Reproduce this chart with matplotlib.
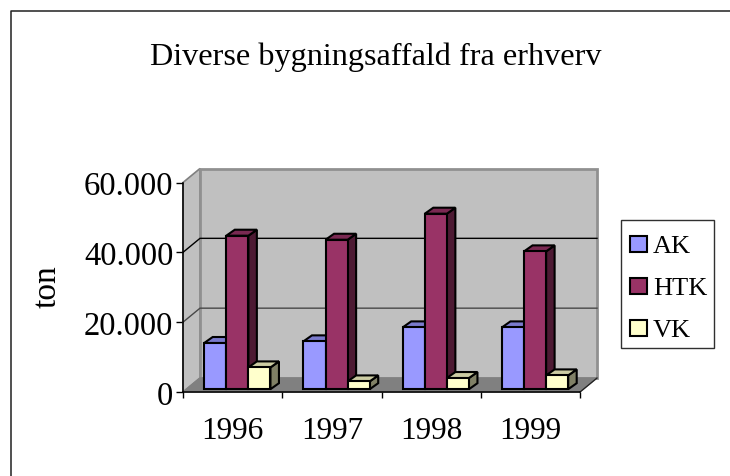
import matplotlib
matplotlib.use('Agg')
import matplotlib.pyplot as plt
from matplotlib.patches import Polygon, Rectangle
from matplotlib.lines import Line2D

plt.rcParams['font.family'] = ['Liberation Serif', 'DejaVu Serif']

years = ['1996', '1997', '1998', '1999']
series_names = ['AK', 'HTK', 'VK']
ak = [13230, 13700, 17700, 17700]
htk = [43960, 42800, 50260, 39470]
vk = [6240, 2230, 3200, 3950]
y_ticks = [0, 20000, 40000, 60000]
y_labels = ['0', '20.000', '40.000', '60.000']

front_col = ['#9999FF', '#993366', '#FFFFCC']
top_col = ['#7A7ACC', '#7A2952', '#CCCCA3']
side_col = ['#4D4D80', '#4D1A33', '#808066']

W, H = 730, 477
fig = plt.figure(figsize=(W / 100, H / 100), dpi=100)

# front plane of the fake 3d box, pixel positions from the reference
left, right, top, bottom = 183, 580, 183.5, 393
ax = fig.add_axes([left / W, 1 - bottom / H, (right - left) / W, (bottom - top) / H])
ax.set_xlim(0, 4)
ax.set_ylim(0, 60000)
ax.patch.set_visible(False)

px_x = 4 / (right - left)
px_y = 60000 / (bottom - top)
dx, dy = 17 * px_x, 14 * px_y          # depth of the box
bar_dx, bar_dy = 8.5 * px_x, 6 * px_y  # depth of a bar
off_x, off_y = 4.7 * px_x, 2.8 * px_y  # bars stand a bit inside the floor
bar_w = 0.2225
gap = (1 - 3 * bar_w) / 2

# walls and floor
ax.add_patch(Polygon([(0, 0), (dx, dy), (dx, 60000 + dy), (0, 60000)], closed=True,
                     fc='#C0C0C0', ec='#808080', lw=1.2, clip_on=False, zorder=1))
ax.add_patch(Polygon([(dx, dy), (4 + dx, dy), (4 + dx, 60000 + dy), (dx, 60000 + dy)], closed=True,
                     fc='#C0C0C0', ec='#909090', lw=2, clip_on=False, zorder=1))
ax.add_patch(Polygon([(0, 0), (4, 0), (4 + dx, dy), (dx, dy)], closed=True,
                     fc='#808080', ec='#808080', lw=1, clip_on=False, zorder=1))
ax.plot([4, 4 + dx], [0, dy], color='#202020', lw=0.9, clip_on=False, zorder=2)

# gridlines, also across the left wall
for t, c in zip(y_ticks[1:-1], ['#484848', '#000000']):
    ax.plot([0, dx, 4 + dx], [t, t + dy, t + dy], color=c, lw=1, clip_on=False, zorder=2,
            solid_joinstyle='miter')

z = 3
for i, vals in enumerate([ak, htk, vk]):
    xs = [j + gap + i * bar_w + off_x for j in range(len(years))]
    ax.bar(xs, vals, bar_w, bottom=off_y, align='edge', color=front_col[i], edgecolor='black',
           lw=1.5, zorder=z + 1, clip_on=False, label=series_names[i])
    for x0, v in zip(xs, vals):
        y1 = off_y + v
        x1 = x0 + bar_w
        ax.add_patch(Polygon([(x1, off_y), (x1 + bar_dx, off_y + bar_dy), (x1 + bar_dx, y1 + bar_dy), (x1, y1)],
                             closed=True, fc=side_col[i], ec='black', lw=1.5, clip_on=False, zorder=z))
        ax.add_patch(Polygon([(x0, y1), (x1, y1), (x1 + bar_dx, y1 + bar_dy), (x0 + bar_dx, y1 + bar_dy)],
                             closed=True, fc=top_col[i], ec='black', lw=1.5, clip_on=False, zorder=z))
    z += 2

for s in ['top', 'right']:
    ax.spines[s].set_visible(False)
ax.spines['left'].set_zorder(10)
ax.spines['bottom'].set_zorder(10)
ax.spines['left'].set_linewidth(1.1)
ax.spines['bottom'].set_linewidth(1.1)

ax.set_yticks(y_ticks)
ax.set_yticklabels(y_labels, fontsize=23.5)
ax.tick_params(axis='y', length=5, width=1, pad=2)
ax.set_xticks(range(5))
ax.set_xticklabels([])
ax.tick_params(axis='x', which='major', length=4.5, width=1)
ax.set_xticks([j + 0.5 for j in range(4)], minor=True)
ax.set_xticklabels(years, minor=True, fontsize=22.5)
ax.tick_params(axis='x', which='minor', length=0, pad=17)

fig.text(47 / W, 1 - 287 / H, 'ton', rotation=90, ha='center', va='center', fontsize=24)
fig.text(376 / W, 1 - 65 / H, 'Diverse bygningsaffald fra erhverv', ha='center', va='baseline', fontsize=23.2)

# legend, drawn by hand since the box is tighter than fig.legend allows
fig.add_artist(Rectangle((620.5 / W, 1 - 349 / H), 93 / W, 128 / H, transform=fig.transFigure,
                         fc='white', ec='#303030', lw=1))
for name, c, yc in zip(series_names, front_col, [245, 287, 329]):
    fig.add_artist(Rectangle((630 / W, 1 - (yc + 8) / H), 16.5 / W, 16 / H, transform=fig.transFigure,
                             fc=c, ec='black', lw=1.5, zorder=3))
    fig.text(653 / W, 1 - (yc + 8.5) / H, name, ha='left', va='baseline', fontsize=19, zorder=3)

# outer chart frame, cut off on the right and at the bottom
fig.add_artist(Line2D([11 / W, 11 / W, 1], [0, 1 - 12 / H, 1 - 12 / H], color='#202020', lw=1.1))

fig.savefig('out.png', dpi=100)
